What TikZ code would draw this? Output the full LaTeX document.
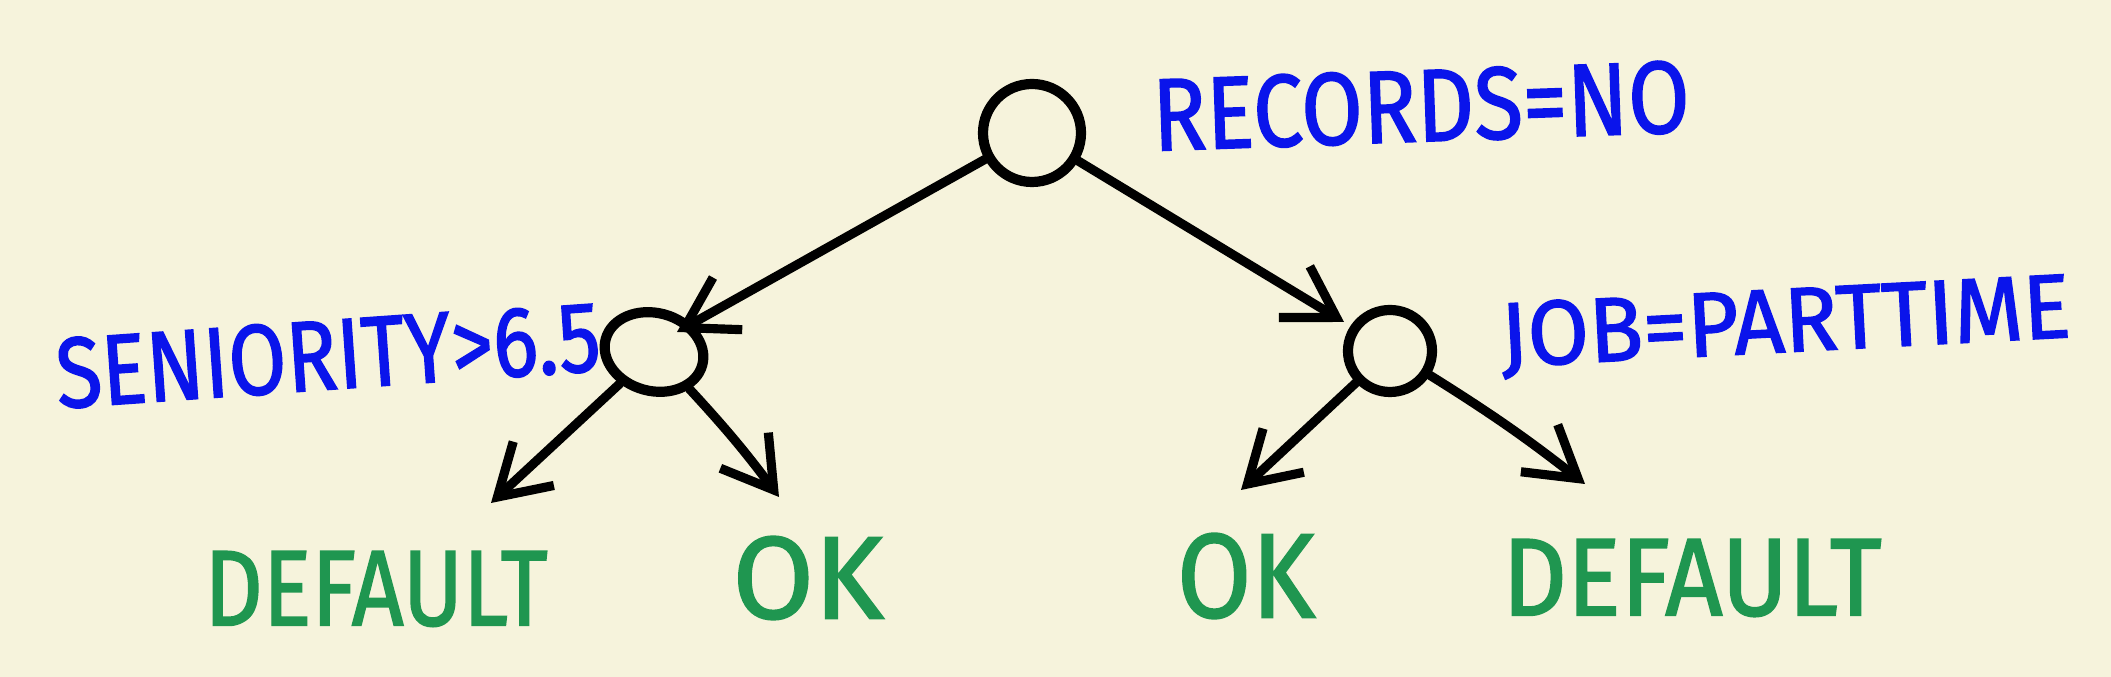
\documentclass[tikz,border=0pt]{standalone}
\usepackage{fontspec}
\setmainfont{Fira Sans}[BoldFont={Fira Sans}, BoldFeatures={FakeBold=1.6}]
\usepackage{graphicx}
\usetikzlibrary{arrows.meta,shapes.geometric}
\definecolor{bgcream}{HTML}{F6F3DC}
\definecolor{inkblue}{HTML}{0A14EB}
\definecolor{inkgreen}{HTML}{1F9650}
\newcommand{\hwtext}[3]{\resizebox{#1}{#2}{\bfseries #3}}
\tikzset{
  treenode/.style={draw=black, line width=2.9pt, ellipse, inner sep=0pt},
  edge/.style={draw=black, line width=2.6pt, line cap=round, line join=round,
    -{Straight Barb[length=14pt,width=17pt,line width=2.6pt]}},
  splitlbl/.style={text=inkblue, inner sep=0pt},
  leaflbl/.style={text=inkgreen, inner sep=0pt}
}
\begin{document}
\begin{tikzpicture}[x=0.01cm,y=-0.01cm]
\fill[bgcream] (0,0) rectangle (2111,677);
\useasboundingbox (0,0) rectangle (2111,677);
% tree nodes
\node[treenode, minimum width=98*0.01cm, minimum height=98*0.01cm] (r) at (1032,133) {};
\node[treenode, minimum width=100*0.01cm, minimum height=78*0.01cm, rotate=-15] (l) at (654,352) {};
\node[treenode, minimum width=84*0.01cm, minimum height=82*0.01cm] (rr) at (1390,351) {};
% split labels
\node[splitlbl, rotate=2] (lr) at (1421,106) {\hwtext{5.37cm}{0.72cm}{RECORDS=NO}};
\node[splitlbl, rotate=4] (ll) at (328,355) {\hwtext{5.45cm}{0.70cm}{SENIORITY>6.5}};
\node[splitlbl, rotate=3, anchor=base] (lrr) at (1787,352) {\hwtext{5.70cm}{0.64cm}{JOB=PARTTIME}};
% leaves
\node[leaflbl] (d1) at (376,589) {\hwtext{3.43cm}{0.74cm}{DEFAULT}};
\node[leaflbl] (o1) at (808,578) {\hwtext{1.51cm}{0.82cm}{OK}};
\node[leaflbl] (o2) at (1246,576) {\hwtext{1.38cm}{0.84cm}{OK}};
\node[leaflbl] (d2) at (1692,578) {\hwtext{3.79cm}{0.76cm}{DEFAULT}};
% arrow tips
\coordinate (tl) at (677,332);
\coordinate (trr) at (1344,322);
\coordinate (td1) at (491,503);
\coordinate (to1) at (779,497);
\coordinate (to2) at (1241,490);
\coordinate (td2) at (1585,484);
% connectors
\draw[edge] (r) -- (tl);
\draw[edge] (r) -- (trr);
\draw[edge] (l) -- (td1);
\draw[edge] (l) to[bend left=3] (to1);
\draw[edge] (rr) -- (to2);
\draw[edge] (rr) to[bend left=3] (td2);
\end{tikzpicture}
\end{document}
